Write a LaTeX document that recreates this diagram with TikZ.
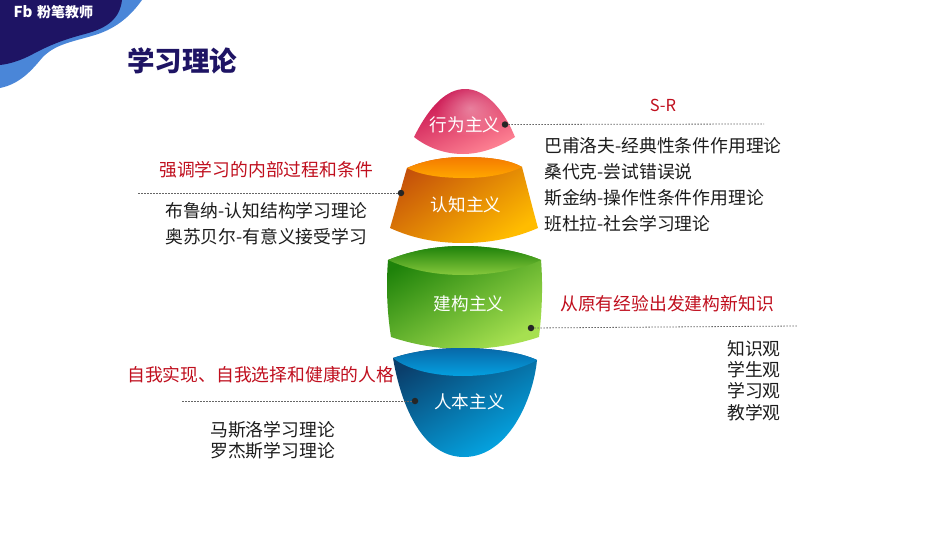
\documentclass[tikz,border=0pt]{standalone}
\usepackage{fontspec}
\setmainfont{Noto Sans CJK SC}
\usetikzlibrary{fadings}
\definecolor{navy}{HTML}{1E1464}
\definecolor{wave}{HTML}{4A86D8}
\definecolor{redlab}{HTML}{C00F1E}
\definecolor{ink}{HTML}{1C1C1C}
\definecolor{redA}{HTML}{C8104F}
\definecolor{redB}{HTML}{FF8494}
\definecolor{orA}{HTML}{C4500A}
\definecolor{orB}{HTML}{FF7F10}
\definecolor{orC}{HTML}{FFBC00}
\definecolor{orD}{HTML}{F57A00}
\definecolor{orE}{HTML}{FFA800}
\definecolor{grA}{HTML}{1E820A}
\definecolor{grB}{HTML}{6CB82E}
\definecolor{grC}{HTML}{A6E050}
\definecolor{grD}{HTML}{86C83C}
\definecolor{blA}{HTML}{0A3F6C}
\definecolor{blB}{HTML}{0A7AB8}
\definecolor{blC}{HTML}{04A8E6}
\definecolor{blD}{HTML}{0868A8}
\definecolor{blE}{HTML}{04A0E0}
\tikzfading[name=softspot,inner color=transparent!65,outer color=transparent!100]
\tikzset{
  x=1pt,y=-1pt,
  lab/.style={inner sep=0pt,text=ink,align=left},
  hint/.style={inner sep=0pt,font=\fontsize{17.8}{20}\selectfont,text=redlab},
  tier/.style={inner sep=0pt,font=\fontsize{17.6}{20}\selectfont,text=white},
  pin/.style={circle,fill=black!85,inner sep=0pt,minimum size=6.5pt},
  leader/.style={draw=black!60,line width=.8pt,dash pattern=on 1.5pt off 1.5pt},
}
\begin{document}
\begin{tikzpicture}
\useasboundingbox (0,0) rectangle (950,535);
\fill[white] (0,0) rectangle (950,535);
% corner waves
\fill[wave] (0,0) -- (142,0) .. controls (132,14) and (118,28) .. (95,35) .. controls (72,42) and (55,44) .. (42,58) .. controls (32,70) and (20,84) .. (0,88) -- cycle;
\fill[navy] (0,0) -- (122,0) .. controls (120,18) and (108,28) .. (85,34) .. controls (62,40) and (48,46) .. (33,54) .. controls (22,60) and (10,64) .. (0,65) -- cycle;
\node[inner sep=0pt,text=white,font=\fontsize{15}{15}\selectfont\bfseries] (fb) at (23,11.5) {Fb};
\node[inner sep=0pt,text=white,font=\fontsize{14}{15}\selectfont\bfseries,anchor=west] (brand) at (37,12) {粉笔教师};
\node[inner sep=0pt,text=navy,font=\fontsize{27.5}{30}\selectfont\bfseries,anchor=west] (title) at (127,61) {学习理论};
% red tier
\shade[top color=redA,bottom color=redB,shading angle=25] (414,137) .. controls (430,105) and (447,89) .. (465,89) .. controls (485,89) and (503,108) .. (515,137) .. controls (498,148) and (480,154) .. (463,154) .. controls (445,154) and (428,148) .. (414,137) -- cycle;
\fill[white,path fading=softspot] (470,108) ellipse [x radius=34,y radius=28];
% orange tier
\shade[top color=orA,middle color=orB,bottom color=orC,shading angle=35] (407,168) .. controls (425,160) and (445,157) .. (465,157) .. controls (490,157) and (510,160) .. (522,167) .. controls (528,190) and (533,210) .. (538,228) .. controls (515,238) and (490,243) .. (463,243) .. controls (435,243) and (412,238) .. (390,228) .. controls (396,208) and (401,188) .. (407,168) -- cycle;
\shade[top color=orD,bottom color=orE] (407,168) .. controls (425,160) and (445,157) .. (465,157) .. controls (490,157) and (510,160) .. (522,167) .. controls (510,173) and (490,178) .. (465,178) .. controls (440,178) and (420,175) .. (407,168) -- cycle;
% green tier
\shade[top color=grA,middle color=grB,bottom color=grC,shading angle=30] (388,260) .. controls (410,251) and (435,246) .. (463,246) .. controls (490,246) and (520,251) .. (541,260) .. controls (543,285) and (542,312) .. (539,337) .. controls (515,345) and (490,349) .. (463,349) .. controls (440,349) and (415,345) .. (391,337) .. controls (387,312) and (386,285) .. (388,260) -- cycle;
\shade[top color=grA,bottom color=grD] (388,260) .. controls (410,251) and (435,246) .. (463,246) .. controls (490,246) and (520,251) .. (541,260) .. controls (520,270) and (490,275) .. (463,275) .. controls (435,275) and (410,270) .. (388,260) -- cycle;
% blue tier
\shade[top color=blA,middle color=blB,bottom color=blC,shading angle=30] (393,358) .. controls (410,352) and (435,348) .. (463,348) .. controls (490,348) and (520,352) .. (537,360) .. controls (533,400) and (508,457) .. (464,457) .. controls (420,457) and (400,400) .. (393,358) -- cycle;
\shade[top color=blD,bottom color=blE] (393,358) .. controls (410,352) and (435,348) .. (463,348) .. controls (490,348) and (520,352) .. (537,360) .. controls (520,370) and (490,376) .. (463,376) .. controls (435,376) and (408,370) .. (393,358) -- cycle;
% tier names
\node[tier] (t1) at (465,124.5) {行为主义};
\node[tier] (t2) at (466,204.5) {认知主义};
\node[tier] (t3) at (469,303.5) {建构主义};
\node[tier] (t4) at (469.5,401.5) {人本主义};
% pins and leaders
\node[pin] (p1) at (505,124.5) {};
\node[pin] (p2) at (401,193) {};
\node[pin] (p3) at (531,328) {};
\node[pin] (p4) at (415,401) {};
\coordinate (e1) at (764,124);
\coordinate (e2) at (138,193);
\coordinate (e3) at (797,326);
\coordinate (e4) at (181,401);
\draw[leader] (p1) -- (e1);
\draw[leader] (p2) -- (e2);
\draw[leader] (p3) -- (e3);
\draw[leader] (p4) -- (e4);
% labels
\node[hint,font=\fontsize{16.5}{18}\selectfont] (h1) at (663,105) {S-R};
\node[hint,anchor=west] (h2) at (159,170) {强调学习的内部过程和条件};
\node[hint,anchor=west] (h3) at (560,304) {从原有经验出发建构新知识};
\node[hint,anchor=west] (h4) at (127,375) {自我实现、自我选择和健康的人格};
\node[lab,anchor=north west,font=\fontsize{17.8}{26}\selectfont] (l1) at (544,137) {巴甫洛夫-经典性条件作用理论\\桑代克-尝试错误说\\斯金纳-操作性条件作用理论\\班杜拉-社会学习理论};
\node[lab,anchor=north west,font=\fontsize{17.8}{25.5}\selectfont] (l2) at (165,202.5) {布鲁纳-认知结构学习理论\\奥苏贝尔-有意义接受学习};
\node[lab,anchor=north west,font=\fontsize{17.8}{21.3}\selectfont] (l3) at (727,340) {知识观\\学生观\\学习观\\教学观};
\node[lab,anchor=north west,font=\fontsize{17.8}{21.3}\selectfont] (l4) at (210,421) {马斯洛学习理论\\罗杰斯学习理论};
\end{tikzpicture}
\end{document}
